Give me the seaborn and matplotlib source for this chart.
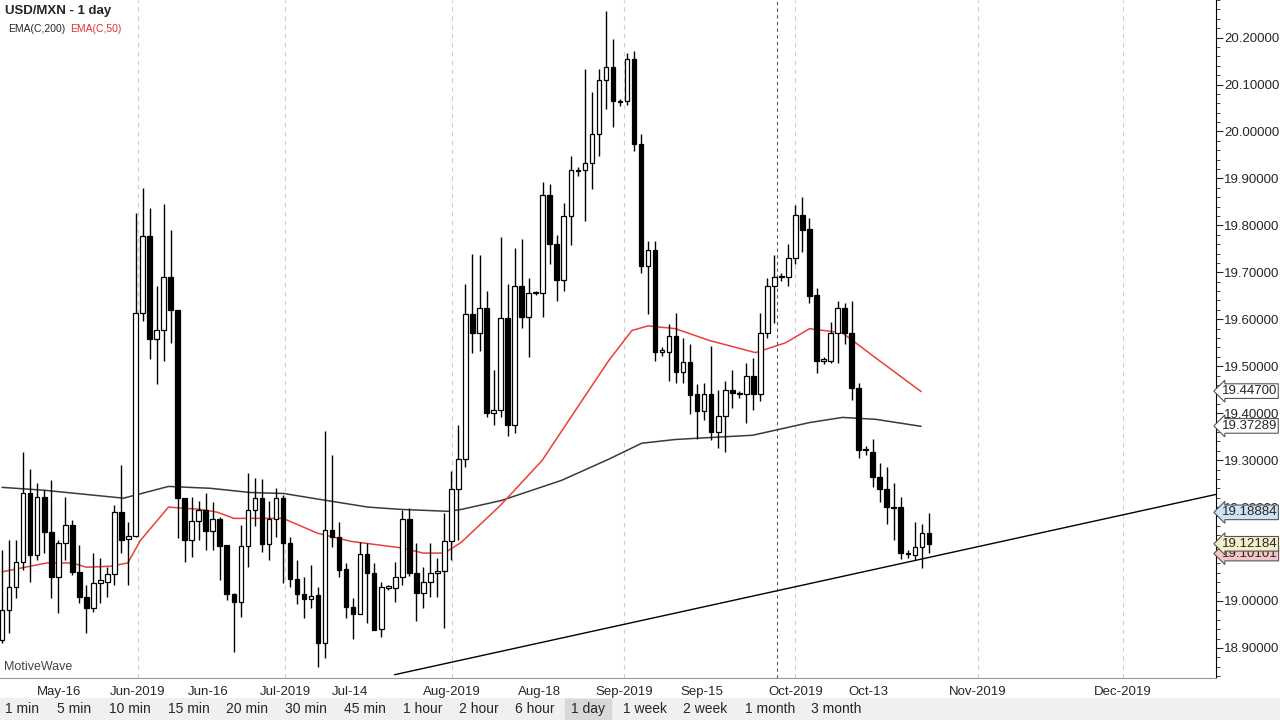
import numpy as np
import pandas as pd
import matplotlib
matplotlib.use("Agg")
import matplotlib.pyplot as plt
import seaborn as sns

# --- daily USD/MXN candles ---
opens = [18.917, 18.981, 19.029, 19.083, 19.229, 19.098, 19.221, 19.147, 19.051, 19.123,
         19.162, 19.062, 19.008, 18.985, 19.038, 19.040, 19.057, 19.189, 19.132, 19.138,
         19.614, 19.777, 19.558, 19.578, 19.690, 19.620, 19.219, 19.129, 19.170, 19.193,
         19.149, 19.174, 19.119, 19.015, 18.998, 19.117, 19.193, 19.219, 19.121, 19.174,
         19.219, 19.123, 19.047, 19.015, 19.004, 19.013, 18.911, 19.151, 19.136, 19.068,
         18.987, 18.972, 19.100, 19.060, 18.941, 19.028, 19.028, 19.051, 19.174, 19.060,
         19.017, 19.040, 19.060, 19.064, 19.127, 19.238, 19.302, 19.612, 19.571, 19.624,
         19.401, 19.406, 19.603, 19.374, 19.671, 19.605, 19.656, 19.656, 19.864, 19.760,
         19.684, 19.820, 19.915, 19.917, 19.932, 19.994, 20.109, 20.138, 20.062, 20.064,
         20.155, 19.973, 19.714, 19.748, 19.531, 19.531, 19.565, 19.488, 19.508, 19.440,
         19.404, 19.440, 19.359, 19.395, 19.450, 19.440, 19.440, 19.480, 19.440, 19.571,
         19.671, 19.690, 19.690, 19.731, 19.822, 19.792, 19.652, 19.512, 19.512, 19.571,
         19.624, 19.571, 19.453, 19.321, 19.317, 19.265, 19.238, 19.198, 19.200, 19.100,
         19.098, 19.115, 19.145]
highs = [19.108, 19.129, 19.129, 19.317, 19.282, 19.251, 19.236, 19.257, 19.129, 19.221,
         19.172, 19.119, 19.034, 19.102, 19.091, 19.072, 19.204, 19.289, 19.168, 19.826,
         19.879, 19.837, 19.671, 19.845, 19.790, 19.620, 19.219, 19.221, 19.214, 19.229,
         19.210, 19.178, 19.119, 19.017, 19.161, 19.272, 19.261, 19.259, 19.214, 19.240,
         19.225, 19.136, 19.087, 19.051, 19.076, 19.030, 19.363, 19.310, 19.168, 19.081,
         19.006, 19.125, 19.123, 19.081, 19.040, 19.034, 19.083, 19.193, 19.197, 19.123,
         19.072, 19.123, 19.091, 19.187, 19.276, 19.374, 19.675, 19.739, 19.737, 19.661,
         19.491, 19.775, 19.675, 19.752, 19.771, 19.688, 19.661, 19.892, 19.888, 19.779,
         19.848, 19.947, 19.925, 20.134, 20.085, 20.132, 20.257, 20.198, 20.070, 20.168,
         20.172, 19.994, 19.767, 19.767, 19.540, 19.590, 19.614, 19.561, 19.548, 19.463,
         19.465, 19.544, 19.450, 19.469, 19.491, 19.448, 19.506, 19.518, 19.614, 19.688,
         19.737, 19.698, 19.760, 19.843, 19.860, 19.815, 19.667, 19.520, 19.595, 19.639,
         19.635, 19.639, 19.465, 19.330, 19.346, 19.293, 19.285, 19.251, 19.221, 19.108,
         19.168, 19.164, 19.187]
lows = [18.911, 18.932, 19.006, 19.066, 19.040, 19.087, 19.102, 19.006, 18.974, 19.087,
        19.055, 18.996, 18.932, 18.977, 18.996, 19.008, 19.034, 19.102, 19.034, 19.136,
        19.597, 19.516, 19.463, 19.512, 19.550, 19.134, 19.083, 19.094, 19.129, 19.108,
        19.108, 19.045, 19.002, 18.891, 18.966, 19.072, 19.159, 19.104, 19.087, 19.136,
        19.038, 19.030, 18.994, 18.964, 18.985, 18.860, 18.879, 19.115, 19.051, 18.964,
        18.919, 18.972, 18.953, 18.938, 18.923, 19.023, 18.998, 19.034, 19.053, 18.957,
        18.985, 19.008, 19.008, 18.943, 19.087, 19.129, 19.285, 19.529, 19.533, 19.391,
        19.374, 19.391, 19.351, 19.357, 19.582, 19.520, 19.652, 19.605, 19.718, 19.639,
        19.661, 19.758, 19.905, 19.809, 19.877, 19.947, 20.047, 20.009, 20.055, 20.057,
        19.958, 19.699, 19.612, 19.512, 19.522, 19.469, 19.465, 19.465, 19.399, 19.344,
        19.385, 19.342, 19.325, 19.317, 19.412, 19.432, 19.380, 19.406, 19.427, 19.561,
        19.593, 19.682, 19.671, 19.718, 19.743, 19.635, 19.486, 19.504, 19.506, 19.506,
        19.548, 19.429, 19.304, 19.312, 19.242, 19.210, 19.164, 19.129, 19.089, 19.092,
        19.087, 19.070, 19.102]
closes = [18.981, 19.029, 19.083, 19.229, 19.098, 19.221, 19.147, 19.051, 19.123, 19.162,
          19.062, 19.008, 18.985, 19.038, 19.045, 19.057, 19.189, 19.129, 19.138, 19.614,
          19.777, 19.558, 19.578, 19.690, 19.620, 19.219, 19.129, 19.170, 19.193, 19.149,
          19.174, 19.117, 19.015, 18.998, 19.117, 19.193, 19.219, 19.121, 19.174, 19.219,
          19.123, 19.047, 19.015, 19.004, 19.011, 18.911, 19.151, 19.136, 19.066, 18.987,
          18.972, 19.100, 19.060, 18.938, 19.030, 19.028, 19.051, 19.174, 19.060, 19.017,
          19.040, 19.060, 19.064, 19.127, 19.238, 19.302, 19.612, 19.571, 19.624, 19.401,
          19.406, 19.603, 19.374, 19.671, 19.605, 19.656, 19.656, 19.864, 19.760, 19.684,
          19.820, 19.917, 19.915, 19.932, 19.994, 20.109, 20.138, 20.064, 20.062, 20.155,
          19.973, 19.714, 19.748, 19.531, 19.531, 19.565, 19.488, 19.508, 19.438, 19.404,
          19.440, 19.359, 19.395, 19.450, 19.442, 19.440, 19.480, 19.440, 19.571, 19.671,
          19.690, 19.690, 19.731, 19.822, 19.790, 19.650, 19.512, 19.512, 19.571, 19.624,
          19.571, 19.453, 19.321, 19.321, 19.265, 19.238, 19.200, 19.198, 19.102, 19.100,
          19.115, 19.145, 19.121]

# --- indicator lines (bar index, price) ---
ema50_idx = [0, 2.6, 6.4, 10, 12, 15.4, 17.9, 19.7, 23.7, 28.3, 30.7, 33, 40, 45, 49.7, 56.9,
             60, 63, 65.4, 71, 76.9, 82.6, 86.4, 89.7, 92, 95.9, 100.7, 107.3, 111.6, 115,
             119.7, 124.4, 130.9]
ema50_val = [19.062, 19.070, 19.081, 19.081, 19.072, 19.074, 19.081, 19.129, 19.200, 19.195,
             19.189, 19.176, 19.176, 19.144, 19.127, 19.113, 19.102, 19.102, 19.125, 19.204,
             19.299, 19.427, 19.512, 19.576, 19.586, 19.580, 19.555, 19.529, 19.550, 19.580,
             19.571, 19.518, 19.446]
ema200_idx = [0, 5.9, 17.3, 23.7, 29.7, 35.4, 40.1, 45, 52.1, 56.9, 63.6, 65.4, 71.1, 79.7,
              86.4, 91.1, 95.9, 100.7, 106.9, 115, 119.7, 124.4, 130.9]
ema200_val = [19.242, 19.236, 19.219, 19.244, 19.240, 19.231, 19.229, 19.217, 19.200, 19.195,
              19.191, 19.195, 19.214, 19.257, 19.302, 19.336, 19.344, 19.348, 19.353, 19.380,
              19.391, 19.387, 19.372]
trend_idx = [55.9, 172.9]
trend_val = [18.843, 19.227]

date_labels = ["May-16", "Jun-2019", "Jun-16", "Jul-2019", "Jul-14", "Aug-2019", "Aug-18",
               "Sep-2019", "Sep-15", "Oct-2019", "Oct-13", "Nov-2019", "Dec-2019"]
date_pos = [8.1, 19.3, 29.4, 40.3, 49.6, 64.1, 76.6, 88.6, 99.6, 113, 123.4, 139, 159.6]
month_pos = [19.3, 40.3, 64.1, 88.6, 113, 139, 159.6]
price_ticks = [18.9, 19.0, 19.1, 19.2, 19.3, 19.4, 19.5, 19.6, 19.7, 19.8, 19.9, 20.0, 20.1, 20.2]
timeframes = ["1 min", "5 min", "10 min", "15 min", "20 min", "30 min", "45 min", "1 hour",
              "2 hour", "6 hour", "1 day", "1 week", "2 week", "1 month", "3 month"]
tag_vals = [19.10101, 19.12184, 19.18884, 19.37289, 19.44700]
tag_cols = ["#f4c6c6", "#f3efc8", "#cfe3f5", "white", "white"]

sns.set_style("white")
plt.rcParams['font.family'] = ['Liberation Sans', 'DejaVu Sans']

df = pd.DataFrame({"open": opens, "high": highs, "low": lows, "close": closes})
df["idx"] = np.arange(len(df))
up = df["close"] >= df["open"]

fig = plt.figure(figsize=(12.8, 7.2), dpi=100)
ax = fig.add_axes([0, 42 / 720, 1216 / 1280, 678 / 720])

for p in month_pos:
    ax.axvline(p, color="#cccccc", lw=0.8, ls=(0, (4, 4)), zorder=0)
ax.axvline(110.4, color="#555555", lw=0.8, ls=(0, (3, 3)), zorder=0)

ax.vlines(df["idx"], df["low"], df["high"], color="black", lw=1, zorder=2)
body_lo = np.minimum(df["open"], df["close"])
body_h = np.maximum(np.abs(df["close"] - df["open"]), 0.003)
ax.bar(df["idx"][up], body_h[up], bottom=body_lo[up], width=0.65,
       color="white", edgecolor="black", lw=0.9, zorder=3)
ax.bar(df["idx"][~up], body_h[~up], bottom=body_lo[~up], width=0.65,
       color="black", edgecolor="black", lw=0.9, zorder=3)

sns.lineplot(x=ema200_idx, y=ema200_val, ax=ax, color="#3a3a3a", lw=1.1, zorder=1)
sns.lineplot(x=ema50_idx, y=ema50_val, ax=ax, color="#e8403a", lw=1.1, zorder=1)
sns.lineplot(x=trend_idx, y=trend_val, ax=ax, color="black", lw=1, zorder=1)

ax.set_xlim(-0.3, 172.9)
ax.set_ylim(18.836, 20.2765)
ax.yaxis.tick_right()
ax.set_yticks(price_ticks)
ax.set_yticklabels([f"{v:.5f}" for v in price_ticks], fontsize=9.5)
ax.set_yticks(np.arange(18.84, 20.28, 0.02), minor=True)
ax.tick_params(axis="y", which="major", length=5, direction="out", pad=1)
ax.tick_params(axis="y", which="minor", length=3, direction="out")
ax.set_xticks(date_pos)
ax.set_xticklabels(date_labels, fontsize=9.5)
ax.tick_params(axis="x", length=4, pad=2)
for s in ["top", "left"]:
    ax.spines[s].set_visible(False)
ax.spines["right"].set_color("black")
ax.spines["bottom"].set_color("#999999")

for v, c in zip(tag_vals, tag_cols):
    ax.annotate(f"{v:.5f}", xy=(1.0, v), xycoords=("axes fraction", "data"),
                xytext=(4, 0), textcoords="offset points", va="center", ha="left",
                fontsize=9.5, bbox=dict(boxstyle="larrow,pad=0.1", fc=c, ec="#555555", lw=0.8))

ax.text(0.004, 0.992, "USD/MXN - 1 day", transform=ax.transAxes, fontsize=9.5,
        fontweight="bold", va="top")
ax.text(0.007, 0.965, "EMA(C,200)", transform=ax.transAxes, fontsize=7.5, va="top")
ax.text(0.058, 0.965, "EMA(C,50)", transform=ax.transAxes, fontsize=7.5, va="top", color="#e03030")
ax.text(0.003, 0.012, "MotiveWave", transform=ax.transAxes, fontsize=9, color="#444444")

# timeframe button strip
bar = fig.add_axes([0, 0, 1, 22 / 720])
bar.set_xlim(0, 1280)
bar.set_ylim(0, 22)
bar.axis("off")
bar.add_patch(plt.Rectangle((0, 0), 1280, 22, color="#f0f0f0"))
centers = [22, 74, 130, 189, 247, 306, 365, 423, 479, 535, 588, 645, 705, 770, 836]
for t, cx in zip(timeframes, centers):
    if t == "1 day":
        bar.add_patch(plt.Rectangle((cx - 23, 1), 46, 20, color="#d8d8d8"))
    bar.text(cx, 11, t, ha="center", va="center", fontsize=10)

fig.savefig("out.png", dpi=100)
